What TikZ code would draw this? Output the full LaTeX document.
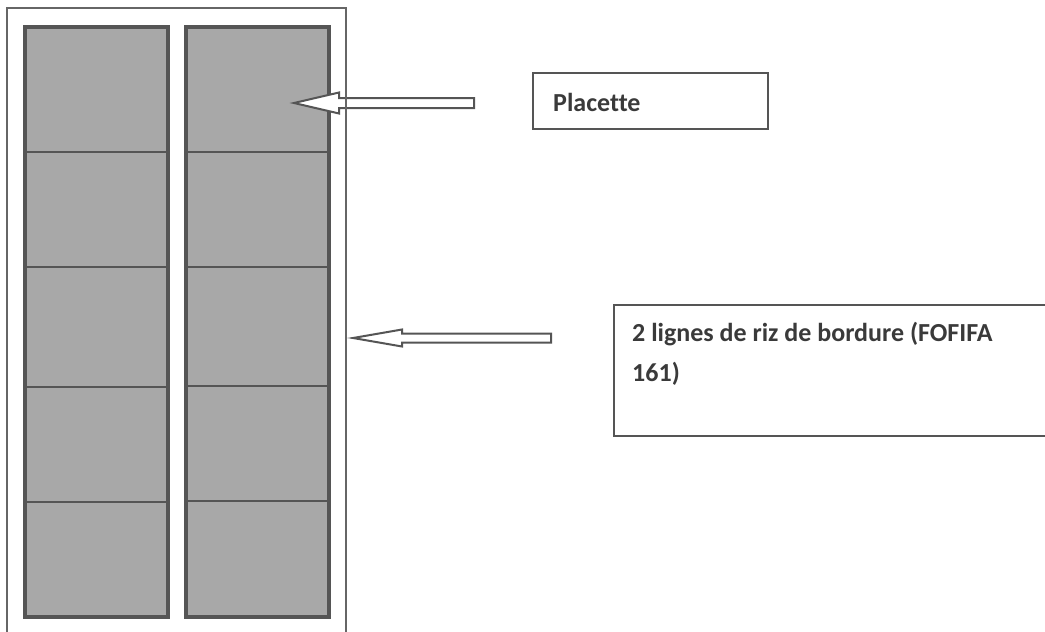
\documentclass[tikz,border=0pt]{standalone}
\usepackage{fontspec}
\setmainfont[Ligatures=NoCommon]{Carlito}
\usetikzlibrary{calc}
\definecolor{gristrait}{HTML}{555555}
\definecolor{griscadre}{HTML}{666666}
\definecolor{grisplac}{HTML}{A8A8A8}
\definecolor{gristexte}{HTML}{3A3A3A}
\def\flechebloc[#1](#2)(#3:#4:#5:#6){\draw[#1] (#2) -- ++(#3,-#4) -- ++(0,#4-#5) -- ++(#6,0) -- ++(0,2*#5) -- ++(-#6,0) -- ++(0,#4-#5) -- cycle;}

\begin{document}
\begin{tikzpicture}[x=1pt, y=-1pt]
			%%%%% START %%%%%
			
			\useasboundingbox (0, 0) rectangle (1045, 632);
			
			\draw[line width=3.5pt, color=gristrait, fill=grisplac] (25, 27) rectangle (168, 617);
			\draw[line width=3.5pt, color=gristrait, fill=grisplac] (186, 27) rectangle (329, 617);
			
			\draw[line width=1.8pt, color=gristrait] (25, 152) -- (168, 152);
			\draw[line width=1.8pt, color=gristrait] (25, 267) -- (168, 267);
			\draw[line width=1.8pt, color=gristrait] (25, 387) -- (168, 387);
			\draw[line width=1.8pt, color=gristrait] (25, 502) -- (168, 502);
			
			\draw[line width=1.8pt, color=gristrait] (186, 152) -- (329, 152);
			\draw[line width=1.8pt, color=gristrait] (186, 267) -- (329, 267);
			\draw[line width=1.8pt, color=gristrait] (186, 386) -- (329, 386);
			\draw[line width=1.8pt, color=gristrait] (186, 501) -- (329, 501);
			
			\coordinate (pointeplac) at (294, 103);
			\coordinate (pointebord) at (353, 338);
			\flechebloc[line width=2pt, color=gristrait, fill=white](pointeplac)(45:10.5:5:135);
			\flechebloc[line width=2pt, color=gristrait, fill=white](pointebord)(49:8.5:4.5:149);
			
			\draw[line width=2.8pt, color=griscadre] (7, 660) -- (7, 8) -- (346, 8) -- (346, 660);
			
			\node[draw, line width=2pt, color=gristrait, anchor=north west, minimum width=235pt, minimum height=56pt, inner sep=0pt] (cadreplac) at (532, 72) {};
			\node[draw, line width=2pt, color=gristrait, anchor=north west, minimum width=450pt, minimum height=131pt, inner sep=0pt] (cadrebord) at (613, 304) {};
			
			\node[anchor=base west, inner sep=0pt, color=gristexte, font=\fontsize{26}{40}\selectfont\bfseries] (placette) at (553, 111) {Placette};
			\node[anchor=north west, inner sep=0pt, align=left, color=gristexte, font=\fontsize{26}{40}\selectfont\bfseries] (bordure) at (632, 322) {2 lignes de riz de bordure (FOFIFA\\161)};
			
			%%%%% END %%%%%
\end{tikzpicture}
\end{document}
